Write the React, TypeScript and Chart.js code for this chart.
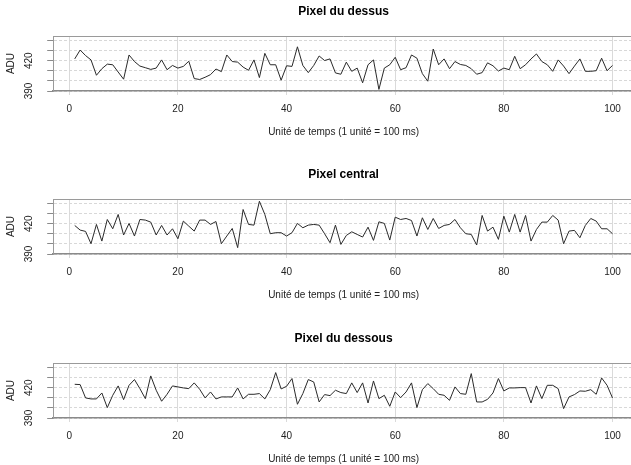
import React, { useEffect, useRef } from 'react';
import { Chart, registerables } from 'chart.js';

Chart.register(...registerables);

const FONT = "'Liberation Sans', Arial, Helvetica, sans-serif";

const timeSteps: number[] = Array.from({ length: 100 }, (_, i) => i + 1);

const pixelAbove = [
  421.8, 430.6, 425.1, 420.8, 405.6, 412.1, 416.6, 416.0, 408.8, 401.7,
  425.7, 419.2, 414.7, 413.1, 411.4, 412.7, 420.8, 411.1, 415.3, 412.7,
  414.4, 419.5, 402.3, 401.4, 403.6, 406.2, 411.8, 409.2, 425.7, 419.2,
  418.6, 413.7, 410.5, 420.8, 403.3, 427.3, 416.0, 416.0, 400.7, 415.0,
  414.4, 433.8, 415.3, 408.2, 415.3, 424.7, 420.2, 421.8, 407.9, 406.6,
  418.6, 409.5, 412.7, 398.1, 416.0, 420.8, 391.6, 412.7, 416.0, 423.4,
  411.1, 413.1, 425.7, 422.5, 407.2, 399.7, 431.6, 416.0, 421.8, 412.1,
  419.2, 416.3, 415.3, 412.1, 406.6, 408.2, 417.9, 415.0, 409.8, 412.7,
  411.1, 424.4, 412.1, 416.0, 421.8, 426.7, 419.2, 416.0, 409.5, 420.8,
  414.7, 407.2, 414.7, 421.8, 409.5, 409.5, 410.1, 422.5, 410.1, 415.3,
];

const pixelCentral = [
  418.3, 413.7, 412.4, 400.2, 419.3, 402.8, 424.2, 415.0, 429.2, 408.8,
  420.3, 407.8, 424.2, 423.6, 421.6, 408.8, 418.3, 408.8, 415.0, 405.1,
  422.6, 417.6, 412.7, 423.6, 423.6, 419.3, 422.2, 400.2, 407.8, 415.3,
  396.3, 434.1, 419.3, 418.6, 442.3, 429.2, 410.1, 411.1, 411.1, 407.8,
  411.1, 420.3, 416.0, 418.6, 419.3, 418.6, 410.1, 401.2, 418.6, 399.5,
  408.4, 412.0, 409.4, 406.8, 416.6, 403.5, 421.9, 420.3, 403.8, 426.5,
  424.2, 425.2, 423.2, 407.8, 425.9, 414.3, 425.2, 415.3, 418.3, 419.3,
  424.2, 416.0, 410.1, 409.4, 398.9, 428.2, 412.7, 416.6, 404.5, 427.5,
  411.7, 429.2, 411.7, 428.2, 402.8, 414.3, 421.6, 421.6, 428.2, 423.6,
  400.2, 412.7, 413.4, 406.1, 418.3, 425.2, 422.6, 415.0, 415.0, 410.1,
];

const pixelBelow = [
  423.4, 423.1, 409.9, 408.9, 408.9, 414.8, 400.3, 412.5, 421.8, 408.2,
  422.4, 428.1, 419.1, 409.2, 431.7, 417.5, 406.6, 413.5, 421.8, 420.8,
  419.8, 419.1, 424.8, 418.5, 409.9, 415.8, 408.9, 410.9, 410.9, 410.9,
  419.8, 408.9, 413.5, 413.5, 414.2, 408.9, 418.1, 435.0, 418.8, 421.4,
  429.1, 403.6, 414.2, 428.1, 425.7, 405.9, 413.2, 412.2, 417.5, 415.2,
  414.2, 424.8, 415.2, 424.8, 404.9, 426.7, 409.2, 412.5, 401.6, 415.8,
  410.2, 415.8, 424.8, 400.3, 418.1, 424.1, 419.1, 413.5, 412.5, 407.5,
  420.8, 414.2, 413.5, 434.0, 405.9, 405.9, 408.5, 414.8, 429.1, 416.8,
  419.8, 419.8, 420.1, 420.1, 404.9, 421.8, 409.2, 422.4, 422.4, 419.1,
  399.3, 410.9, 413.2, 416.8, 416.5, 418.1, 413.5, 429.7, 422.4, 409.9,
];

const xTickValues = [0, 20, 40, 60, 80, 100];
const yTickValues = [390, 400, 410, 420, 430, 440];
const yLabelledTicks = [390, 420];
const panelTitles = ['Pixel du dessus', 'Pixel central', 'Pixel du dessous'];
const xAxisTitle = 'Unité de temps (1 unité = 100 ms)';
const yAxisTitle = 'ADU';

const topBorder = {
  id: 'topBorder',
  afterDraw(chart: any) {
    const { ctx, chartArea } = chart;
    ctx.save();
    ctx.strokeStyle = '#9a9a9a';
    ctx.lineWidth = 1;
    ctx.beginPath();
    const y = Math.round(chartArea.top) + 0.5;
    ctx.moveTo(chartArea.left, y);
    ctx.lineTo(chartArea.right, y);
    ctx.stroke();
    ctx.restore();
  },
};

function Panel({ title, values, top }: { title: string; values: number[]; top: number }) {
  const ref = useRef<HTMLCanvasElement>(null);
  useEffect(() => {
    const chart = new Chart(ref.current as HTMLCanvasElement, {
      type: 'line',
      data: {
        datasets: [
          {
            data: timeSteps.map((t, i) => ({ x: t, y: values[i] })),
            borderColor: '#2a2a2a',
            borderWidth: 1,
            pointRadius: 0,
            tension: 0,
            fill: false,
          },
        ],
      },
      options: {
        responsive: false,
        animation: false,
        devicePixelRatio: 1,
        layout: { padding: { top: 0, left: 0, right: 0, bottom: 11.5 } },
        plugins: {
          legend: { display: false },
          tooltip: { enabled: false },
          title: {
            display: true,
            text: title,
            fullSize: false,
            color: '#000',
            font: { family: FONT, size: 12, weight: 'bold', lineHeight: 1.2 },
            padding: { top: 4.8, bottom: 16.8 },
          },
        },
        scales: {
          x: {
            type: 'linear',
            min: -2.96,
            max: 103.96,
            afterBuildTicks: (s: any) => {
              s.ticks = xTickValues.map((v) => ({ value: v }));
            },
            afterFit: (s: any) => {
              s.height = 47.5;
            },
            grid: { color: '#dadada', lineWidth: 1, tickLength: 4, tickColor: '#dadada' },
            border: { display: true, color: '#8a8a8a', width: 1.5 },
            ticks: {
              padding: 8,
              color: '#222',
              font: { family: FONT, size: 10 },
              maxRotation: 0,
              autoSkip: false,
            },
            title: {
              display: true,
              text: xAxisTitle,
              color: '#222',
              font: { family: FONT, size: 10 },
              padding: { top: 0, bottom: 0 },
            },
          },
          y: {
            type: 'linear',
            min: 390,
            max: 444.5,
            afterBuildTicks: (s: any) => {
              s.ticks = yTickValues.map((v) => ({ value: v }));
            },
            afterFit: (s: any) => {
              s.width = 53.2;
            },
            grid: { color: '#d8d8d8', lineWidth: 1, tickLength: 6, tickColor: '#8a8a8a' },
            border: { display: true, color: '#9a9a9a', width: 1, dash: [3, 2] },
            ticks: {
              minRotation: 90,
              maxRotation: 90,
              crossAlign: 'center',
              padding: 10,
              color: '#222',
              autoSkip: false,
              font: { family: FONT, size: 10 },
              callback: (v: any) => (yLabelledTicks.includes(Number(v)) ? String(v) : ''),
            },
            title: {
              display: true,
              text: yAxisTitle,
              color: '#222',
              font: { family: FONT, size: 10 },
              padding: { top: 5.7, bottom: 0 },
            },
          },
        },
      } as any,
      plugins: [topBorder],
    });
    return () => chart.destroy();
  }, [title, values]);

  return (
    <canvas
      ref={ref}
      width={634}
      height={150}
      style={{ position: 'absolute', left: 0, top, width: 634, height: 150 }}
    />
  );
}

export default function App() {
  const series = [pixelAbove, pixelCentral, pixelBelow];
  const tops = [0, 163, 327];
  return (
    <div
      style={{
        position: 'absolute',
        left: 0,
        top: 0,
        width: 631,
        height: 465,
        overflow: 'hidden',
        background: '#fff',
      }}
    >
      {panelTitles.map((t, i) => (
        <Panel key={t} title={t} values={series[i]} top={tops[i]} />
      ))}
    </div>
  );
}
